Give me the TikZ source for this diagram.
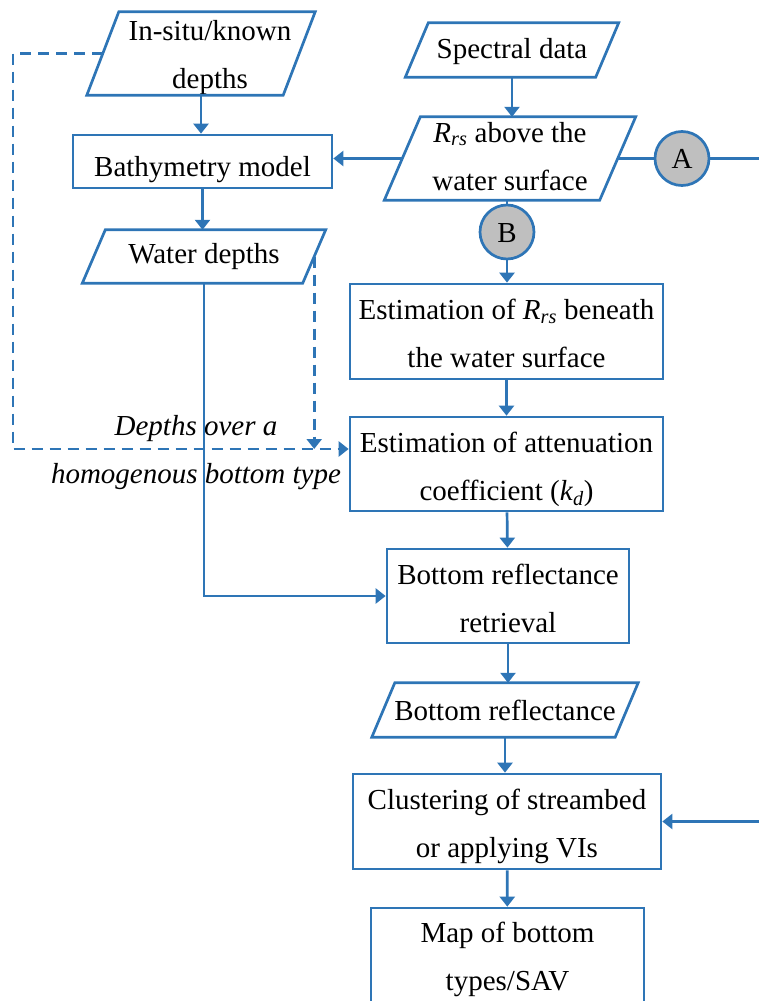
\documentclass[tikz,border=0pt]{standalone}
\usepackage{fontspec}
\setmainfont{Liberation Serif}
\usetikzlibrary{arrows.meta}
\definecolor{flow}{RGB}{46,117,182}
\definecolor{conngray}{RGB}{191,191,191}
\newcommand{\Rrs}{\textit{R}\textsubscript{\textit{rs}}}
\begin{document}
\begin{tikzpicture}[x=1pt,y=-1pt,
  flowline/.style={draw=flow,line width=2.7pt},
  arr/.style={flowline,-{Triangle[width=15pt,length=10pt]}},
  dsh/.style={arr,dash pattern=on 11pt off 7pt},
  txt/.style={font=\fontsize{29}{48}\selectfont,align=center,text=black},
  one/.style={text height=26pt,text depth=6pt},
  two/.style={text height=78pt,text depth=6pt},
  procbox/.style={flowline,rectangle,inner sep=0pt,txt},
  iobox/.style={rectangle,inner sep=0pt,txt},
  connector/.style={flowline,circle,fill=conngray,minimum size=54pt,inner sep=0pt,txt,one}
]
\useasboundingbox (0,0) rectangle (759,1001);
\clip (0,0) rectangle (759,1001);

% data (parallelogram) nodes; outlines drawn below
\node[iobox,two,text height=75pt,minimum width=196pt,minimum height=83pt] (insitu) at (201,53.5) {\hspace*{18pt}In-situ/known\\\hspace*{18pt}depths};
\node[iobox,one,text height=22pt,minimum width=190pt,minimum height=54pt] (spec) at (512,50) {Spectral data};
\node[iobox,two,text height=69pt,minimum width=215pt,minimum height=83pt] (rrs) at (510,158.5) {\Rrs{} above the\\water surface};
\node[iobox,one,text height=20pt,minimum width=220pt,minimum height=53pt] (wd) at (204,256.5) {Water depths};
\node[iobox,one,minimum width=243pt,minimum height=54pt] (bref) at (505,710) {Bottom reflectance};

\foreach \n/\s in {insitu/16,spec/11.5,rrs/18,wd/11.5,bref/11.5}
  \draw[flowline,line join=miter]
    ([xshift=\s pt]\n.north west) -- ([xshift=\s pt]\n.north east) --
    ([xshift=-\s pt]\n.south east) -- ([xshift=-\s pt]\n.south west) -- cycle;

% process boxes
\node[procbox,one,text height=35pt,minimum width=259pt,minimum height=53pt] (bathy) at (202.5,161.5) {Bathymetry model};
\node[procbox,two,minimum width=313pt,minimum height=95pt] (estR) at (506.5,331.5) {Estimation of \Rrs{} beneath\\the water surface};
\node[procbox,two,minimum width=313pt,minimum height=94pt] (estK) at (506.5,464) {Estimation of attenuation\\coefficient (\textit{k}\textsubscript{\textit{d}})};
\node[procbox,two,minimum width=242pt,minimum height=94pt] (brr) at (508,596) {Bottom reflectance\\retrieval};
\node[procbox,two,minimum width=308pt,minimum height=95pt] (clus) at (507,821.5) {Clustering of streambed\\or applying VIs};
\node[procbox,two,minimum width=273pt,minimum height=100pt,text height=70pt] (map) at (507.5,958) {Map of bottom\\types/SAV};

% off-page connectors
\node[connector] (A) at (682,158.5) {A};
\node[connector] (B) at (507,232) {B};

\coordinate (outA) at (759,158.5);
\coordinate (inC) at (759,821.5);
\coordinate (dl) at (13,449);

% label of the dashed link
\node[txt,two,font=\fontsize{29}{48}\selectfont\itshape] (lbl) at (196,447) {Depths over a\\homogenous bottom type};

% solid connectors
\draw[arr] (insitu.south) -- (insitu.south |- bathy.north);
\draw[arr] (bathy.south) -- (bathy.south |- wd.north);
\draw[arr] (spec.south) -- (spec.south |- rrs.north);
\draw[arr] (rrs.west) -- (rrs.west -| bathy.east);
\draw[flowline] (rrs.east) -- (A.west);
\draw[flowline] (A.east) -- (outA);
\draw[flowline] (rrs.south -| B.north) -- (B.north);
\draw[arr] (B.south) -- (B.south |- estR.north);
\draw[arr] (estR) -- (estK);
\draw[arr] (estK) -- (brr);
\draw[arr] (brr.south) -- (brr.south |- bref.north);
\draw[arr] (bref.south) -- (bref.south |- clus.north);
\draw[arr] (clus) -- (map);
\draw[arr] (wd.south) |- (brr.west);
\draw[arr] (inC) -- (clus.east);

% dashed connectors
\draw[dsh] (insitu.west) -| (dl) -- (dl -| estK.west);
\draw[dsh] (wd.east) -- (wd.east |- dl);
\end{tikzpicture}
\end{document}
